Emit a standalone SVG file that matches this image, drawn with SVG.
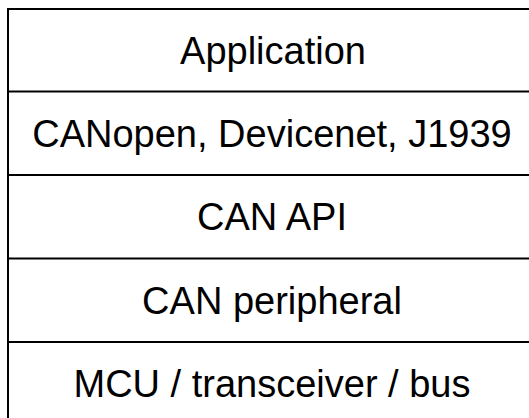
<svg xmlns="http://www.w3.org/2000/svg" width="529" height="418" viewBox="0 0 529 418">
<style>
.ln{stroke:#000;stroke-width:2;fill:none}
.t{font-family:"Liberation Sans",Arial,sans-serif;font-size:38px;fill:#000;text-anchor:middle}
</style>
<rect width="529" height="418" fill="#fff"/>
<g id="connectors">
<path class="ln" d="M8 418 V9 H529"/>
<path class="ln" d="M8 91.5 H529 M8 175 H529 M8 258.5 H529 M8 342 H529"/>
</g>
<g id="application"><text class="t" x="273" y="63.5">Application</text></g>
<g id="protocols"><text class="t" x="272" y="146.5">CANopen, Devicenet, J1939</text></g>
<g id="can-api"><text class="t" x="272" y="230">CAN API</text></g>
<g id="can-peripheral"><text class="t" x="272" y="313.5">CAN peripheral</text></g>
<g id="mcu"><text class="t" x="272" y="397">MCU / transceiver / bus</text></g>
</svg>
